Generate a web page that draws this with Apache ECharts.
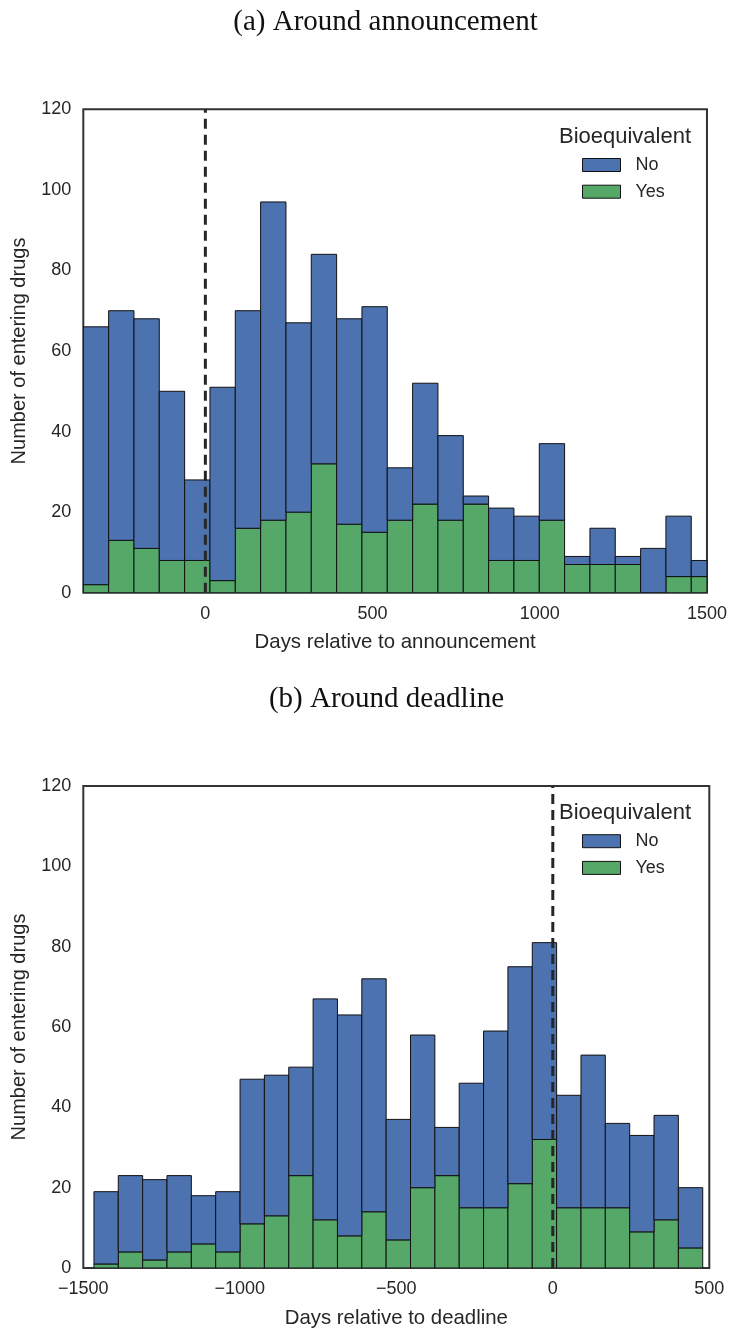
<!DOCTYPE html>
<html>
<head>
<meta charset="utf-8">
<script src="https://cdn.jsdelivr.net/npm/echarts@6/dist/echarts.min.js"></script>
<style>
html,body{margin:0;padding:0;background:#fff;}
#chart{width:730px;height:1329px;}
</style>
</head>
<body>
<div id="chart"></div>
<script>
// ---------- Data ----------
const titleA = '(a) Around announcement';
const titleB = '(b) Around deadline';
const xNameA = 'Days relative to announcement';
const xNameB = 'Days relative to deadline';
const yName = 'Number of entering drugs';
const legendTitle = 'Bioequivalent';
const seriesNames = ['No', 'Yes'];

// Panel (a): histogram bins (first edge, bin width in days)
const firstEdgeA = -365;
const binWidthA = 75.75;
const yesA = [2, 13, 11, 8, 8, 3, 16, 18, 20, 32, 17, 15, 18, 22, 18, 22, 8, 8, 18, 7, 7, 7, 0, 4, 4];
const noA  = [64, 57, 57, 42, 20, 48, 54, 79, 47, 52, 51, 56, 13, 30, 21, 2, 13, 11, 19, 2, 9, 2, 11, 15, 4];
const xRangeA = [-365, 1500];
const xTicksA = [0, 500, 1000, 1500];

// Panel (b)
const firstEdgeB = -1466;
const binWidthB = 77.8;
const yesB = [1, 4, 2, 4, 6, 4, 11, 13, 23, 12, 8, 14, 7, 20, 23, 15, 15, 21, 32, 15, 15, 15, 9, 12, 5];
const noB  = [18, 19, 20, 19, 12, 15, 36, 35, 27, 55, 55, 58, 30, 38, 12, 31, 44, 54, 49, 28, 38, 21, 24, 26, 15];
const xRangeB = [-1500, 500];
const xTicksB = [-1500, -1000, -500, 0, 500];

const yTicks = [0, 20, 40, 60, 80, 100, 120];
const eventLineX = 0;

// ---------- Styling ----------
const BLUE = '#4C72B0';
const GREEN = '#55A868';
const TXT = '#262626';
const SANS = '"Liberation Sans", Arial, sans-serif';
const SERIF = '"Liberation Serif", "DejaVu Serif", serif';

function buildRects(firstEdge, width, yes, no) {
  const green = [], blue = [];
  for (let i = 0; i < yes.length; i++) {
    const s = firstEdge + i * width, e = s + width;
    green.push([s, e, 0, yes[i]]);
    blue.push([s, e, yes[i], yes[i] + no[i]]);
  }
  return { green, blue };
}

function renderItem(params, api) {
  const x0 = api.value(0), x1 = api.value(1), y0 = api.value(2), y1 = api.value(3);
  const p0 = api.coord([x0, y1]);
  const p1 = api.coord([x1, y0]);
  const cs = params.coordSys;
  const rect = echarts.graphic.clipRectByRect(
    { x: p0[0], y: p0[1], width: p1[0] - p0[0], height: p1[1] - p0[1] },
    { x: cs.x, y: cs.y, width: cs.width, height: cs.height }
  );
  if (!rect) return null;
  return {
    type: 'rect',
    shape: rect,
    style: { fill: api.visual('color'), stroke: '#111', lineWidth: 1 }
  };
}

const rA = buildRects(firstEdgeA, binWidthA, yesA, noA);
const rB = buildRects(firstEdgeB, binWidthB, yesB, noB);

const fmtMinus = v => String(v).replace('-', '\u2212');

const gridTop = [109.3, 786];
const gridH = 483.4;

function xAxisFor(idx, range, ticks, name) {
  return {
    type: 'value', gridIndex: idx, min: range[0], max: range[1],
    axisLine: { show: false }, axisTick: { show: false },
    splitLine: { show: false },
    axisLabel: { customValues: ticks, formatter: fmtMinus, color: TXT, fontSize: 18, fontFamily: SANS, margin: 12 },
    name: name, nameLocation: 'middle', nameGap: 40,
    nameTextStyle: { color: TXT, fontSize: 20.4, fontFamily: SANS }
  };
}
function yAxisFor(idx) {
  return {
    type: 'value', gridIndex: idx, min: 0, max: 120, interval: 20,
    axisLine: { show: false }, axisTick: { show: false },
    splitLine: { show: false },
    axisLabel: { customValues: yTicks, color: TXT, fontSize: 18, fontFamily: SANS, margin: 12 },
    name: yName, nameLocation: 'middle', nameGap: 54, nameRotate: 90,
    nameTextStyle: { color: TXT, fontSize: 20, fontFamily: SANS }
  };
}

function legendFor(top) {
  return {
    orient: 'vertical', left: 582, top: top, padding: 0,
    itemWidth: 38, itemHeight: 13, itemGap: 8.7,
    selectedMode: false,
    textStyle: { color: TXT, fontSize: 18, fontFamily: SANS, padding: [0, 0, 0, 10] },
    data: [
      { name: 'No', icon: 'rect', itemStyle: { color: BLUE, borderColor: '#111', borderWidth: 1 } },
      { name: 'Yes', icon: 'rect', itemStyle: { color: GREEN, borderColor: '#111', borderWidth: 1 } }
    ]
  };
}

function barSeries(name, data, color, xi) {
  return {
    type: 'custom', name: name, xAxisIndex: xi, yAxisIndex: xi,
    renderItem: renderItem, clip: true,
    itemStyle: { color: color },
    encode: { x: [0, 1], y: [2, 3] },
    data: data, z: 2, silent: true
  };
}
function dashSeries(xi) {
  return {
    type: 'line', xAxisIndex: xi, yAxisIndex: xi,
    data: [[eventLineX, 0], [eventLineX, 120]],
    symbol: 'none', silent: true, z: 5,
    lineStyle: { color: '#262626', width: 3, type: [10, 6] }
  };
}

const titleStyle = { fontFamily: SERIF, fontWeight: 'normal', fontSize: 29, color: '#111' };
const legTitleStyle = { fontFamily: SANS, fontWeight: 'normal', fontSize: 22, color: TXT };

const chart = echarts.init(document.getElementById('chart'), null, { renderer: 'canvas' });
chart.setOption({
  animation: false,
  backgroundColor: '#fff',
  title: [
    { text: titleA, left: 385.5, top: 22, padding: 0, textAlign: 'center', textVerticalAlign: 'middle', textStyle: titleStyle },
    { text: titleB, left: 386.5, top: 699, padding: 0, textAlign: 'center', textVerticalAlign: 'middle', textStyle: titleStyle },
    { text: legendTitle, left: 625, top: 136.5, padding: 0, textAlign: 'center', textVerticalAlign: 'middle', textStyle: legTitleStyle },
    { text: legendTitle, left: 625, top: 813.2, padding: 0, textAlign: 'center', textVerticalAlign: 'middle', textStyle: legTitleStyle }
  ],
  grid: [
    { left: 83.3, right: 20.7, top: gridTop[0], height: gridH, show: true, borderColor: '#333', borderWidth: 2, backgroundColor: 'transparent' },
    { left: 83.3, right: 20.7, top: gridTop[1], height: gridH, show: true, borderColor: '#333', borderWidth: 2, backgroundColor: 'transparent' }
  ],
  legend: [legendFor(156), legendFor(832.2)],
  xAxis: [xAxisFor(0, xRangeA, xTicksA, xNameA), xAxisFor(1, xRangeB, xTicksB, xNameB)],
  yAxis: [yAxisFor(0), yAxisFor(1)],
  series: [
    barSeries(seriesNames[1], rA.green, GREEN, 0),
    barSeries(seriesNames[0], rA.blue, BLUE, 0),
    dashSeries(0),
    barSeries(seriesNames[1], rB.green, GREEN, 1),
    barSeries(seriesNames[0], rB.blue, BLUE, 1),
    dashSeries(1)
  ]
});
</script>
</body>
</html>
